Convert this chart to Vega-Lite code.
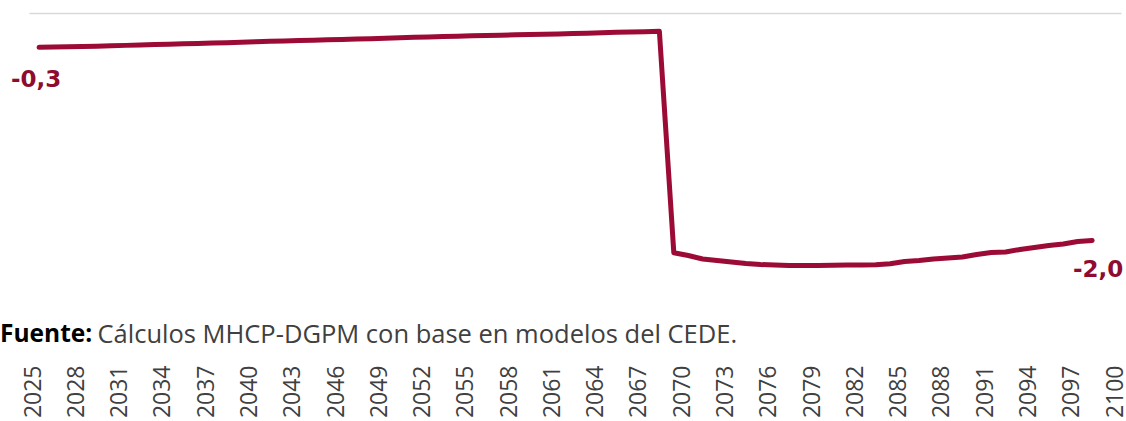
{
  "$schema": "https://vega.github.io/schema/vega-lite/v6.json",
  "autosize": "none",
  "padding": {"left": 29, "top": 13, "right": 5, "bottom": 122},
  "width": 1092,
  "height": 286,
  "background": "white",
  "config": {
    "view": {"stroke": null},
    "font": "Open Sans",
    "locale": {
      "number": {"decimal": ",", "thousands": ".", "grouping": [3], "currency": ["$", ""], "minus": "-"}
    }
  },
  "title": {
    "text": "Fuente:",
    "orient": "top",
    "anchor": "start",
    "frame": "group",
    "font": "Open Sans",
    "fontSize": 24.5,
    "fontWeight": "bold",
    "color": "#000000",
    "baseline": "alphabetic",
    "offset": 0,
    "dx": -29,
    "dy": 353
  },
  "data": {
    "values": [
      {"year": 2025, "value": -0.300},
      {"year": 2026, "value": -0.297},
      {"year": 2027, "value": -0.295},
      {"year": 2028, "value": -0.292},
      {"year": 2029, "value": -0.290},
      {"year": 2030, "value": -0.287},
      {"year": 2031, "value": -0.283},
      {"year": 2032, "value": -0.280},
      {"year": 2033, "value": -0.276},
      {"year": 2034, "value": -0.273},
      {"year": 2035, "value": -0.269},
      {"year": 2036, "value": -0.266},
      {"year": 2037, "value": -0.262},
      {"year": 2038, "value": -0.259},
      {"year": 2039, "value": -0.255},
      {"year": 2040, "value": -0.252},
      {"year": 2041, "value": -0.248},
      {"year": 2042, "value": -0.245},
      {"year": 2043, "value": -0.241},
      {"year": 2044, "value": -0.238},
      {"year": 2045, "value": -0.234},
      {"year": 2046, "value": -0.231},
      {"year": 2047, "value": -0.227},
      {"year": 2048, "value": -0.224},
      {"year": 2049, "value": -0.220},
      {"year": 2050, "value": -0.217},
      {"year": 2051, "value": -0.213},
      {"year": 2052, "value": -0.210},
      {"year": 2053, "value": -0.206},
      {"year": 2054, "value": -0.203},
      {"year": 2055, "value": -0.199},
      {"year": 2056, "value": -0.196},
      {"year": 2057, "value": -0.194},
      {"year": 2058, "value": -0.191},
      {"year": 2059, "value": -0.189},
      {"year": 2060, "value": -0.186},
      {"year": 2061, "value": -0.183},
      {"year": 2062, "value": -0.179},
      {"year": 2063, "value": -0.176},
      {"year": 2064, "value": -0.172},
      {"year": 2065, "value": -0.169},
      {"year": 2066, "value": -0.166},
      {"year": 2067, "value": -0.163},
      {"year": 2068, "value": -0.160},
      {"year": 2069, "value": -2.096},
      {"year": 2070, "value": -2.120},
      {"year": 2071, "value": -2.150},
      {"year": 2072, "value": -2.164},
      {"year": 2073, "value": -2.177},
      {"year": 2074, "value": -2.190},
      {"year": 2075, "value": -2.199},
      {"year": 2076, "value": -2.203},
      {"year": 2077, "value": -2.207},
      {"year": 2078, "value": -2.207},
      {"year": 2079, "value": -2.207},
      {"year": 2080, "value": -2.206},
      {"year": 2081, "value": -2.203},
      {"year": 2082, "value": -2.203},
      {"year": 2083, "value": -2.201},
      {"year": 2084, "value": -2.192},
      {"year": 2085, "value": -2.172},
      {"year": 2086, "value": -2.164},
      {"year": 2087, "value": -2.150},
      {"year": 2088, "value": -2.142},
      {"year": 2089, "value": -2.133},
      {"year": 2090, "value": -2.111},
      {"year": 2091, "value": -2.094},
      {"year": 2092, "value": -2.089},
      {"year": 2093, "value": -2.067},
      {"year": 2094, "value": -2.050},
      {"year": 2095, "value": -2.032},
      {"year": 2096, "value": -2.019},
      {"year": 2097, "value": -1.997},
      {"year": 2098, "value": -1.988}
    ]
  },
  "encoding": {
    "x": {
      "field": "year",
      "type": "quantitative",
      "scale": {"domain": [2024.3, 2100], "nice": false, "zero": false},
      "axis": {
        "values": [2025, 2028, 2031, 2034, 2037, 2040, 2043, 2046, 2049, 2052, 2055, 2058, 2061, 2064, 2067, 2070, 2073, 2076, 2079, 2082, 2085, 2088, 2091, 2094, 2097, 2100],
        "format": "d",
        "labelAngle": -90,
        "labelFontSize": 23,
        "labelFont": "Open Sans",
        "labelColor": "#404040",
        "labelPadding": 66,
        "labelOffset": -6,
        "labelFlush": false,
        "labelOverlap": false,
        "labelBound": false,
        "ticks": false,
        "domain": false,
        "grid": false,
        "title": "Cálculos MHCP-DGPM con base en modelos del CEDE.",
        "titleFont": "Open Sans",
        "titleFontSize": 25.5,
        "titleFontWeight": "normal",
        "titleColor": "#404040",
        "titleAnchor": "start",
        "titleAlign": "left",
        "titleBaseline": "alphabetic",
        "titleX": 68,
        "titleY": 43
      }
    },
    "y": {
      "field": "value",
      "type": "quantitative",
      "scale": {"domain": [-2.5, 0], "nice": false, "zero": false},
      "axis": {
        "values": [0],
        "grid": true,
        "gridColor": "#d9d9d9",
        "gridWidth": 1.5,
        "labels": false,
        "ticks": false,
        "domain": false,
        "title": null
      }
    }
  },
  "layer": [
    {
      "mark": {"type": "line", "color": "#9B0B35", "strokeWidth": 5, "strokeCap": "round", "strokeJoin": "round"}
    },
    {
      "transform": [{"filter": "datum.year == 2025"}],
      "mark": {"type": "text", "color": "#8E0C30", "font": "DejaVu Sans", "fontSize": 23, "fontWeight": "bold", "align": "center", "baseline": "middle", "dx": -3, "dy": 33},
      "encoding": {"text": {"field": "value", "type": "quantitative", "format": ".1f"}}
    },
    {
      "transform": [{"filter": "datum.year == 2098"}],
      "mark": {"type": "text", "color": "#8E0C30", "font": "DejaVu Sans", "fontSize": 23, "fontWeight": "bold", "align": "center", "baseline": "middle", "dx": 6, "dy": 30},
      "encoding": {"text": {"field": "value", "type": "quantitative", "format": ".1f"}}
    }
  ]
}
